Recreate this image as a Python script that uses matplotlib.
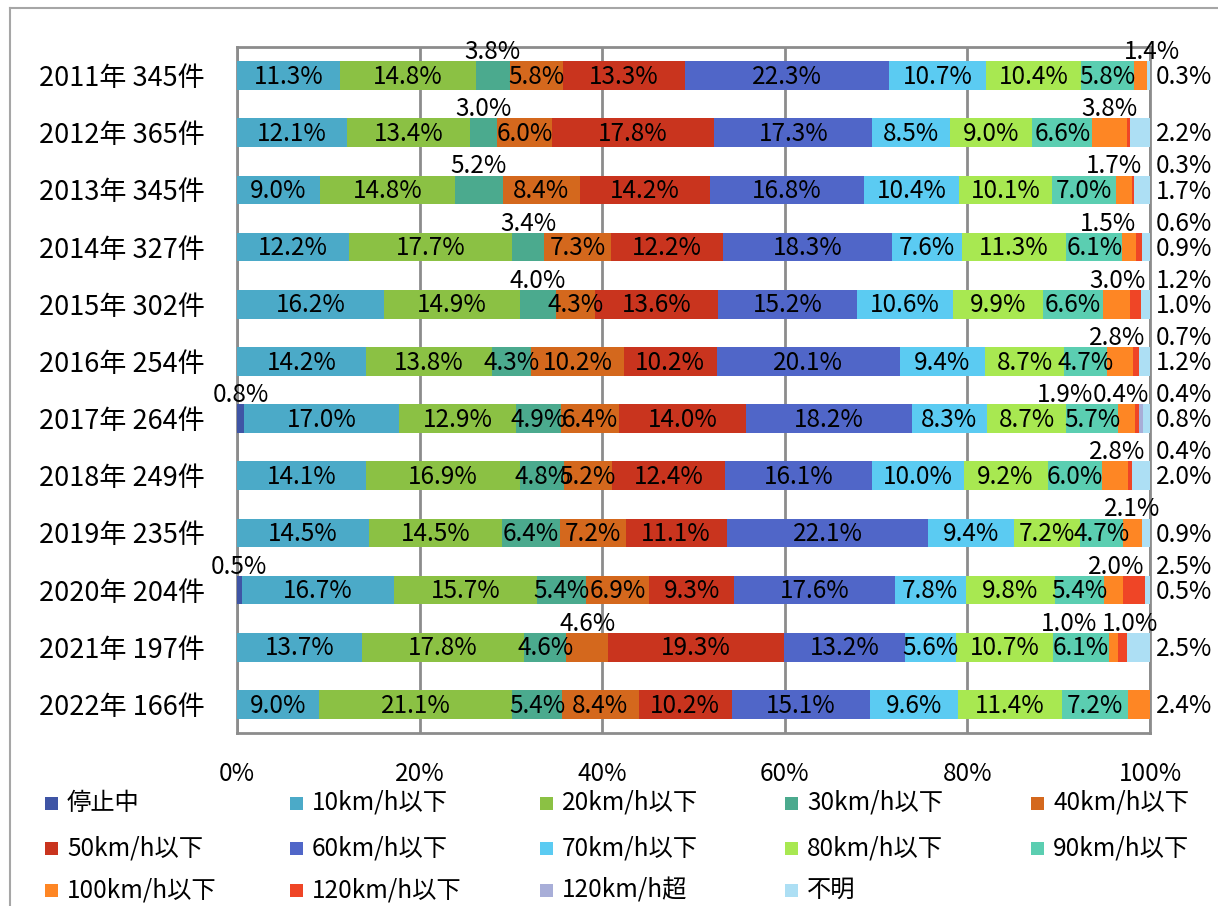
import matplotlib
matplotlib.use("Agg")
import matplotlib.pyplot as plt
from matplotlib.patches import Rectangle
from matplotlib.lines import Line2D
import numpy as np

plt.rcParams['font.family'] = ['Noto Sans CJK JP', 'DejaVu Sans']

# ---------------- data ----------------
years = ["2011年 345件", "2012年 365件", "2013年 345件", "2014年 327件",
         "2015年 302件", "2016年 254件", "2017年 264件", "2018年 249件",
         "2019年 235件", "2020年 204件", "2021年 197件", "2022年 166件"]

categories = ["停止中", "10km/h以下", "20km/h以下", "30km/h以下", "40km/h以下",
              "50km/h以下", "60km/h以下", "70km/h以下", "80km/h以下", "90km/h以下",
              "100km/h以下", "120km/h以下", "120km/h超", "不明"]

v2011 = [0.0, 11.3, 14.8, 3.8, 5.8, 13.3, 22.3, 10.7, 10.4, 5.8, 1.4, 0.0, 0.0, 0.3]
v2012 = [0.0, 12.1, 13.4, 3.0, 6.0, 17.8, 17.3, 8.5, 9.0, 6.6, 3.8, 0.3, 0.0, 2.2]
v2013 = [0.0, 9.0, 14.8, 5.2, 8.4, 14.2, 16.8, 10.4, 10.1, 7.0, 1.7, 0.3, 0.0, 1.7]
v2014 = [0.0, 12.2, 17.7, 3.4, 7.3, 12.2, 18.3, 7.6, 11.3, 6.1, 1.5, 0.6, 0.0, 0.9]
v2015 = [0.0, 16.2, 14.9, 4.0, 4.3, 13.6, 15.2, 10.6, 9.9, 6.6, 3.0, 1.2, 0.0, 1.0]
v2016 = [0.0, 14.2, 13.8, 4.3, 10.2, 10.2, 20.1, 9.4, 8.7, 4.7, 2.8, 0.7, 0.0, 1.2]
v2017 = [0.8, 17.0, 12.9, 4.9, 6.4, 14.0, 18.2, 8.3, 8.7, 5.7, 1.9, 0.4, 0.4, 0.8]
v2018 = [0.0, 14.1, 16.9, 4.8, 5.2, 12.4, 16.1, 10.0, 9.2, 6.0, 2.8, 0.4, 0.0, 2.0]
v2019 = [0.0, 14.5, 14.5, 6.4, 7.2, 11.1, 22.1, 9.4, 7.2, 4.7, 2.1, 0.0, 0.0, 0.9]
v2020 = [0.5, 16.7, 15.7, 5.4, 6.9, 9.3, 17.6, 7.8, 9.8, 5.4, 2.0, 2.5, 0.0, 0.5]
v2021 = [0.0, 13.7, 17.8, 4.6, 4.6, 19.3, 13.2, 5.6, 10.7, 6.1, 1.0, 1.0, 0.0, 2.5]
v2022 = [0.0, 9.0, 21.1, 5.4, 8.4, 10.2, 15.1, 9.6, 11.4, 7.2, 2.4, 0.0, 0.0, 0.0]

values = [v2011, v2012, v2013, v2014, v2015, v2016,
          v2017, v2018, v2019, v2020, v2021, v2022]

xtick_labels = ["0%", "20%", "40%", "60%", "80%", "100%"]

# ---------------- style ----------------
colors = ["#3F55A5", "#4BAAC8", "#8BC144", "#4BAA8E", "#D4681D",
          "#C9341E", "#5066C8", "#5BCBF2", "#A8E851", "#5BCEB1",
          "#FE8624", "#EF4526", "#A8AED8", "#ADDFF4"]

# label placement exceptions: (year index, category index) -> (mode, x override)
# modes: 'above', 'ru' (right upper), 'rc' (right centre), 'none'
label_mode = {
    (0, 3): ('above', None), (0, 10): ('above', 100.2), (0, 13): ('rc', None),
    (1, 3): ('above', None), (1, 10): ('above', None), (1, 11): ('none', None), (1, 13): ('rc', None),
    (2, 3): ('above', None), (2, 10): ('above', 96.1), (2, 11): ('ru', None), (2, 13): ('rc', None),
    (3, 3): ('above', None), (3, 10): ('above', 95.4), (3, 11): ('ru', None), (3, 13): ('rc', None),
    (4, 3): ('above', None), (4, 10): ('above', 96.4), (4, 11): ('ru', None), (4, 13): ('rc', None),
    (5, 10): ('above', 96.4), (5, 11): ('ru', None), (5, 13): ('rc', None),
    (6, 0): ('above', None), (6, 10): ('above', 90.7), (6, 11): ('above', 96.8),
    (6, 12): ('ru', None), (6, 13): ('rc', None),
    (7, 10): ('above', 96.4), (7, 11): ('ru', None), (7, 13): ('rc', None),
    (8, 10): ('above', 98.0), (8, 13): ('rc', None),
    (9, 0): ('above', None), (9, 10): ('above', 96.3), (9, 11): ('ru', None), (9, 13): ('rc', None),
    (10, 4): ('above', None), (10, 10): ('above', 91.1), (10, 11): ('above', 97.8), (10, 13): ('rc', None),
    (11, 10): ('rc', None),
}

W, H = 1218, 906
fig = plt.figure(figsize=(W / 100, H / 100), dpi=100)
ax = fig.add_axes([237 / W, 1 - 733 / H, (1150 - 237) / W, (733 - 47) / H])

FS = 17.5
FS_Y = 19.5
FS_L = 17.5
grid_c = "#8C8C8C"

data = np.array(values)
norm = data / data.sum(axis=1, keepdims=True) * 100
ypos = np.arange(len(years))
left = np.zeros(len(years))
bar_h = 0.5
for j, cat in enumerate(categories):
    w = norm[:, j]
    ax.barh(ypos, w, left=left, height=bar_h, color=colors[j], edgecolor='none', zorder=3)
    for i in range(len(years)):
        raw = data[i, j]
        if raw <= 0:
            continue
        mode, xo = label_mode.get((i, j), ('in', None))
        if mode == 'none':
            continue
        txt = f"{raw:.1f}%"
        cx = left[i] + w[i] / 2
        if mode == 'in':
            ax.text(cx, ypos[i] + 0.02, txt, ha='center', va='center', fontsize=FS, zorder=5)
        elif mode == 'above':
            ax.text(xo if xo is not None else cx, ypos[i] - 0.41, txt, ha='center', va='center',
                    fontsize=FS, zorder=5, clip_on=False)
        elif mode == 'ru':
            ax.text(100.6, ypos[i] - 0.41, txt, ha='left', va='center', fontsize=FS, clip_on=False)
        elif mode == 'rc':
            ax.text(100.6, ypos[i] + 0.03, txt, ha='left', va='center', fontsize=FS, clip_on=False)
    left = left + w

ax.set_xlim(0, 100)
ax.set_ylim(len(years) - 0.5, -0.5)
ax.set_xticks(np.linspace(0, 100, len(xtick_labels)))
ax.set_xticklabels(xtick_labels, fontsize=FS)
ax.set_yticks(ypos)
ax.set_yticklabels(years, fontsize=FS_Y)
ax.tick_params(axis='both', length=0)
ax.tick_params(axis='x', pad=20)
ax.tick_params(axis='y', pad=23)
ax.grid(axis='x', color=grid_c, linewidth=2, zorder=0)
for s in ax.spines.values():
    s.set_color(grid_c)
    s.set_linewidth(2)

# outer chart border (left & top visible)
fig.add_artist(Line2D([10 / W, 10 / W], [0, 1 - 8 / H], color="#A6A6A6", linewidth=1.5))
fig.add_artist(Line2D([10 / W, 1], [1 - 8 / H, 1 - 8 / H], color="#A6A6A6", linewidth=1.5))

# legend (5 columns x 3 rows)
col_x = [45, 290, 540, 785, 1031]
row_y = [803, 848, 890]
sq = 13
for k, cat in enumerate(categories):
    r, c = divmod(k, 5)
    x0, yc = col_x[c], row_y[r]
    fig.add_artist(Rectangle((x0 / W, 1 - (yc + sq / 2) / H), sq / W, sq / H,
                             transform=fig.transFigure, facecolor=colors[k], edgecolor='none'))
    fig.text((x0 + sq + 9) / W, 1 - yc / H, cat, ha='left', va='center', fontsize=FS_L)

fig.savefig("out.png", dpi=100)
